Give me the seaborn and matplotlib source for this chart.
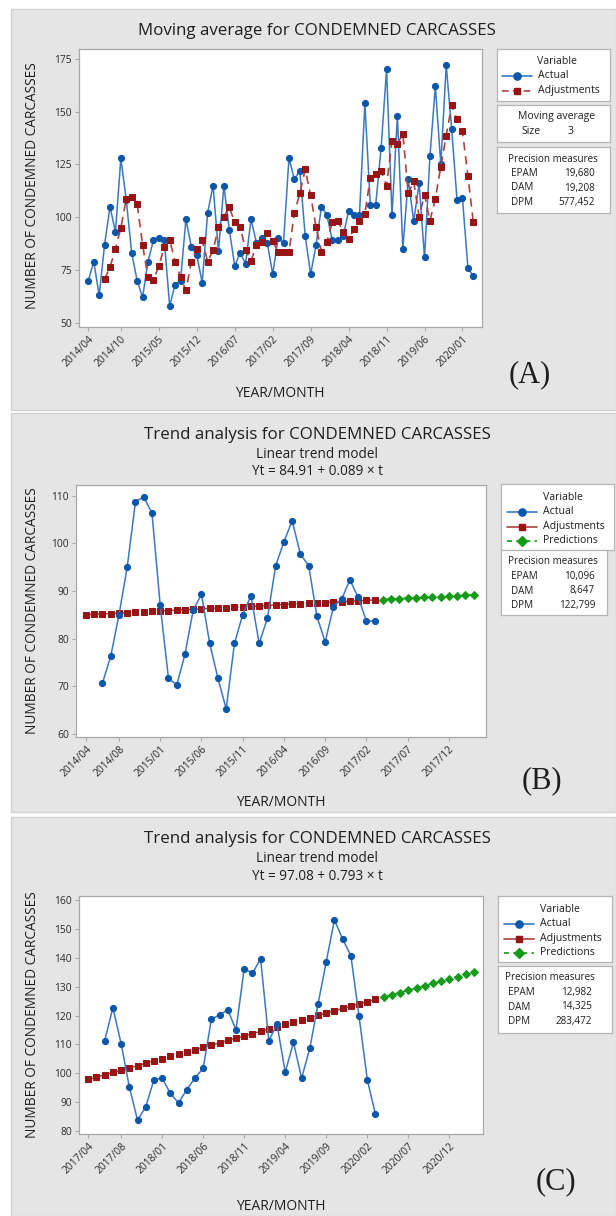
import numpy as np
import pandas as pd
import matplotlib
matplotlib.use("Agg")
import matplotlib.pyplot as plt
from matplotlib.patches import Rectangle
from matplotlib.lines import Line2D
import seaborn as sns

sns.set_theme(style="white")
plt.rcParams['font.family'] = ['Open Sans', 'DejaVu Sans']

# ---------------------------------------------------------------- data
# (A) monthly condemned carcasses, 2014/04 .. 2020/03
ma_actual = [70, 79, 63, 87, 105, 93, 128, 108, 83, 70, 62, 79, 89, 90, 89, 58,
             68, 70, 99, 86, 82, 69, 102, 115, 84, 115, 94, 77, 83, 78, 99, 88,
             90, 88, 73, 90, 88, 128, 118, 122, 91, 73, 87, 105, 101, 89, 89, 91,
             103, 101, 101, 154, 106, 106, 133, 170, 101, 148, 85, 118, 98, 116,
             81, 129, 162, 125, 172, 142, 108, 109, 76, 72]
ma_window = 3
ma_ticks = ['2014/04', '2014/10', '2015/05', '2015/12', '2016/07', '2017/02',
            '2017/09', '2018/04', '2018/11', '2019/06', '2020/01']
ma_measures = [('EPAM', '19,680'), ('DAM', '19,208'), ('DPM', '577,452')]

# (B) smoothed series 2014/06 .. 2017/03 with linear trend
tb_actual = [70.7, 76.3, 85.0, 95.0, 108.7, 109.7, 106.3, 87.0, 71.7, 70.3,
             76.7, 86.0, 89.3, 79.0, 71.7, 65.3, 79.0, 85.0, 89.0, 79.0, 84.3,
             95.3, 100.3, 104.7, 97.7, 95.3, 84.7, 79.3, 86.7, 88.3, 92.3, 88.7,
             83.7, 83.7]
tb_intercept, tb_slope = 84.91, 0.089
tb_ticks = ['2014/04', '2014/08', '2015/01', '2015/06', '2015/11', '2016/04',
            '2016/09', '2017/02', '2017/07', '2017/12']
tb_measures = [('EPAM', '10,096'), ('DAM', '8,647'), ('DPM', '122,799')]

# (C) smoothed series 2017/06 .. 2020/03 with linear trend
tc_actual = [111.3, 122.7, 110.3, 95.3, 83.7, 88.3, 97.7, 98.3, 93.0, 89.7,
             94.3, 98.3, 101.7, 118.7, 120.3, 122.0, 115.0, 136.3, 134.7, 139.7,
             111.3, 117.0, 100.3, 110.7, 98.3, 108.7, 124.0, 138.7, 153.2, 146.5,
             140.8, 119.7, 97.7, 85.7]
tc_intercept, tc_slope = 97.08, 0.793
tc_ticks = ['2017/04', '2017/08', '2018/01', '2018/06', '2018/11', '2019/04',
            '2019/09', '2020/02', '2020/07', '2020/12']
tc_measures = [('EPAM', '12,982'), ('DAM', '14,325'), ('DPM', '283,472')]

# ---------------------------------------------------------------- style
W, H = 616, 1216
BLUE, BLUE_LINE = '#0a56a8', '#3b78c2'
RED, RED_LINE = '#991414', '#b04040'
GREEN = '#169a1a'
PANEL = '#e5e5e5'
SPINE = '#a8a8a8'
TXT = '#1e1e1e'
LEG_FS = 7.6
PREC_FS = 7.1

fig = plt.figure(figsize=(W / 100, H / 100), dpi=100)
fig.patch.set_facecolor('white')


def fx(x):
    return x / W


def fy(y):
    return 1 - y / H


def text(x, y, s, **kw):
    kw.setdefault('color', TXT)
    kw.setdefault('va', 'center')
    fig.text(fx(x), fy(y), s, **kw)


def panel(top, bottom):
    fig.add_artist(Rectangle((fx(11), fy(bottom)), (W - 11) / W, (bottom - top) / H,
                             transform=fig.transFigure, facecolor=PANEL,
                             edgecolor='#d2d2d2', lw=1.0, zorder=-5))


def make_axes(l, t, r, b):
    ax = fig.add_axes([fx(l), fy(b), (r - l) / W, (b - t) / H])
    ax.set_facecolor('white')
    for s in ax.spines.values():
        s.set_color(SPINE)
        s.set_linewidth(0.9)
    ax.tick_params(axis='both', which='both', direction='out', length=3, width=0.8,
                   color=SPINE, labelsize=7.4, labelcolor='#2a2a2a', pad=2,
                   bottom=True, left=True)
    ax.grid(False)
    return ax


def box(l, t, r, b):
    ax = fig.add_axes([fx(l), fy(b), (r - l) / W, (b - t) / H])
    ax.set_facecolor('white')
    ax.set_xticks([])
    ax.set_yticks([])
    for s in ax.spines.values():
        s.set_color('#b5b5b5')
        s.set_linewidth(0.9)
    return ax


def legend_row(x0, x1, y, color, lcolor, marker, ms, ls, label, tx):
    fig.add_artist(Line2D([fx(x0), fx(x1)], [fy(y), fy(y)], transform=fig.transFigure,
                          color=lcolor, lw=1.2, ls=ls))
    fig.add_artist(Line2D([fx((x0 + x1) / 2)], [fy(y)], transform=fig.transFigure,
                          marker=marker, ms=ms, color=color, mec=color, ls='none'))
    text(tx, y, label, fontsize=LEG_FS, ha='left')


def measures_box(l, t, r, b, rows, y0, step, xl, xv, xc):
    box(l, t, r, b)
    text(xc, y0, 'Precision measures', fontsize=PREC_FS, ha='center')
    for i, (k, v) in enumerate(rows):
        text(xl, y0 + step * (i + 1), k, fontsize=PREC_FS, ha='left')
        text(xv, y0 + step * (i + 1), v, fontsize=PREC_FS, ha='right')


def date_ticks(ax, positions, labels):
    ax.set_xticks(positions)
    ax.set_xticklabels(labels, rotation=45, ha='right', rotation_mode='anchor')


# ================================================================ (A)
panel(9, 410)
ax = make_axes(79, 49, 482, 327)
t_a = np.arange(1, len(ma_actual) + 1)
ser = pd.Series(ma_actual, index=t_a, dtype=float)
adj = ser.rolling(ma_window).mean().shift(1).dropna()
sns.lineplot(x=t_a, y=ma_actual, ax=ax, color=BLUE_LINE, lw=1.1, marker='o',
             markersize=4.4, markerfacecolor=BLUE, markeredgecolor=BLUE, zorder=3)
sns.lineplot(x=adj.index.values, y=adj.values, ax=ax, color=RED_LINE, lw=1.2,
             dashes=False, linestyle=(0, (5, 3.5)), marker='s', markersize=3.8,
             markerfacecolor=RED, markeredgecolor=RED, zorder=4)
ax.set_xlim(-0.72, 73.6)
ax.set_ylim(48.0, 179.7)
ax.set_yticks([50, 75, 100, 125, 150, 175])
date_ticks(ax, [1] + list(range(7, 71, 7)), ma_ticks)
ax.set_xlabel('')
ax.set_ylabel('NUMBER OF CONDEMNED CARCASSES', fontsize=9.8, color=TXT)
ax.yaxis.set_label_coords((40 - 79) / (482 - 79), 0.51)
text(317, 31, 'Moving average for CONDEMNED CARCASSES', fontsize=12.2, ha='center')
text(280, 393, 'YEAR/MONTH', fontsize=10, ha='center')
text(530, 375, '(A)', fontsize=22, ha='center', family='Liberation Serif')

box(497, 49, 610, 101)
text(557, 61, 'Variable', fontsize=LEG_FS, ha='center')
legend_row(502, 532, 76, BLUE, BLUE_LINE, 'o', 5.2, '-', 'Actual', 538)
legend_row(502, 532, 91, RED, RED_LINE, 's', 4.8, (0, (4, 2.5)), 'Adjustments', 538)
box(497, 105, 610, 142)
text(557, 117, 'Moving average', fontsize=LEG_FS, ha='center')
text(541, 132, 'Size', fontsize=LEG_FS, ha='right')
text(571, 132, '3', fontsize=LEG_FS, ha='center')
measures_box(497, 147, 610, 213, ma_measures, 159, 14.5, 511, 595, 553)


# ================================================================ trends
def trend_panel(top, actual, b0, b1, ticks, measures, letter, ylim, yticks,
                axes_box, xlim, leg):
    l, t, r, b = axes_box
    panel(top, top + 399)
    ax = make_axes(l, t, r, b)
    n_fit = len(actual) + 2
    t_act = np.arange(3, n_fit + 1)
    t_fit = np.arange(1, n_fit + 1)
    t_pred = np.arange(n_fit + 1, n_fit + 13)
    sns.lineplot(x=t_fit, y=b0 + b1 * t_fit, ax=ax, color=RED_LINE, lw=1.1,
                 linestyle=(0, (4, 2)), marker='s', markersize=3.8,
                 markerfacecolor=RED, markeredgecolor=RED, zorder=3)
    sns.lineplot(x=t_pred, y=b0 + b1 * t_pred, ax=ax, color=GREEN, lw=1.1,
                 linestyle=(0, (4, 2)), marker='D', markersize=3.8,
                 markerfacecolor=GREEN, markeredgecolor=GREEN, zorder=3)
    sns.lineplot(x=t_act, y=actual, ax=ax, color=BLUE_LINE, lw=1.1, marker='o',
                 markersize=4.4, markerfacecolor=BLUE, markeredgecolor=BLUE, zorder=4)
    ax.set_xlim(*xlim)
    ax.set_ylim(*ylim)
    ax.set_yticks(yticks)
    date_ticks(ax, [1] + list(range(5, 46, 5)), ticks)
    ax.set_xlabel('')
    ax.set_ylabel('NUMBER OF CONDEMNED CARCASSES', fontsize=9.8, color=TXT)
    ax.yaxis.set_label_coords((40 - l) / (r - l), 0.5)
    text(317, top + 22, 'Trend analysis for CONDEMNED CARCASSES', fontsize=12.2,
         ha='center')
    text(317, top + 41, 'Linear trend model', fontsize=9.8, ha='center')
    text(317, top + 59, f'Yt = {b0:.2f} + {b1:.3f} \u00d7 t', fontsize=9.8,
         ha='center')
    text(281, top + 389, 'YEAR/MONTH', fontsize=10, ha='center')
    text(leg['letter_x'], top + leg['letter_dy'], letter, fontsize=22, ha='center',
         family='Liberation Serif')

    # legend boxes
    bl, bt, br, bb = leg['var_box']
    box(bl, bt, br, bb)
    text(bl + 62, bt + 13, 'Variable', fontsize=LEG_FS, ha='center')
    legend_row(bl + 6, bl + 36, bt + 28, BLUE, BLUE_LINE, 'o', 5.2, '-', 'Actual', bl + 42)
    legend_row(bl + 6, bl + 36, bt + 42.5, RED, RED_LINE, 's', 4.8, '-', 'Adjustments',
               bl + 42)
    legend_row(bl + 6, bl + 36, bt + 56.5, GREEN, GREEN, 'D', 4.8, (0, (3, 2.5)),
               'Predictions', bl + 42)
    ml, mt, mr, mb = leg['prec_box']
    measures_box(ml, mt, mr, mb, measures, mt + 12, 14.5, ml + 10, ml + 94, ml + 52)


trend_panel(413, tb_actual, tb_intercept, tb_slope, tb_ticks, tb_measures, '(B)',
            (59.4, 112.2), [60, 70, 80, 90, 100, 110], (76, 485, 486, 737),
            (-0.21, 49.5),
            dict(letter_x=542, letter_dy=368,
                 var_box=(501, 484, 614, 550), prec_box=(501, 550, 607, 615)))

trend_panel(817, tc_actual, tc_intercept, tc_slope, tc_ticks, tc_measures, '(C)',
            (78.9, 161.5), [80, 90, 100, 110, 120, 130, 140, 150, 160],
            (79, 896, 483, 1134), (-0.13, 49.1),
            dict(letter_x=556, letter_dy=365,
                 var_box=(498, 896, 612, 962), prec_box=(498, 966, 612, 1033)))

fig.savefig('out.png', dpi=100, facecolor='white')
